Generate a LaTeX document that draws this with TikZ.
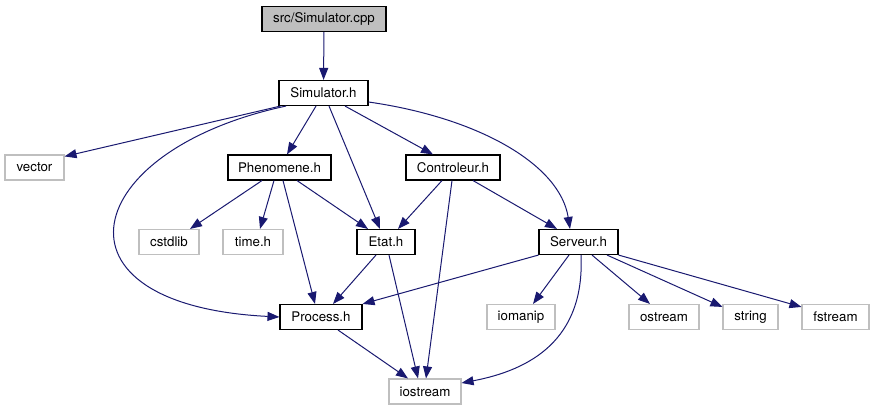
\documentclass[tikz,border=0pt]{standalone}
\usepackage{fontspec}
\setmainfont{TeX Gyre Heros}
\usetikzlibrary{arrows.meta,positioning}
\definecolor{cEdge}{HTML}{191970}
\definecolor{cFrame}{HTML}{BFBFBF}
\definecolor{cRoot}{HTML}{BFBFBF}
\tikzset{
  hbox/.style={draw=black,fill=white,line width=1.1pt,minimum height=25pt,inner sep=0pt,font=\fontsize{13.3}{15}\selectfont,text=black},
  sysbox/.style={hbox,draw=cFrame},
  rootbox/.style={hbox,fill=cRoot},
  arr/.style={-{Triangle[length=12pt,width=9pt]},line width=1pt,color=cEdge},
}

\begin{document}
\begin{tikzpicture}[x=1pt,y=-1pt]
  \useasboundingbox (0,0) rectangle (875,411);
  % top rows
  \node[rootbox,minimum width=124pt] (cpp)   at (324,19)    {src/Simulator.cpp};
  \node[hbox,minimum width=89pt]     (sim)   at (323.5,93)  {Simulator.h};
  \node[sysbox,minimum width=59pt]   (vec)   at (34.5,167.5){vector};
  \node[hbox,minimum width=103pt]    (phen)  at (279.5,167.5){Phenomene.h};
  \node[hbox,minimum width=94pt]     (ctrl)  at (453,167.5) {Controleur.h};
  % middle row
  \node[sysbox,minimum width=60pt]   (cstd)  at (169,242)   {cstdlib};
  \node[sysbox,minimum width=60pt]   (timeh) at (253,242)   {time.h};
  \node[hbox,minimum width=58pt]     (etat)  at (386,242)   {Etat.h};
  \node[hbox,minimum width=79pt]     (serv)  at (578.5,242) {Serveur.h};
  % bottom rows
  \node[hbox,minimum width=82pt]     (proc)  at (321,317)   {Process.h};
  \node[sysbox,minimum width=68pt]   (iomn)  at (521,317)   {iomanip};
  \node[sysbox,minimum width=70pt]   (ostr)  at (664,317)   {ostream};
  \node[sysbox,minimum width=55pt]   (strg)  at (750.5,317) {string};
  \node[sysbox,minimum width=67pt]   (fstr)  at (835.5,317) {fstream};
  \node[sysbox,minimum width=72pt]   (iostr) at (425,391.5) {iostream};

  \draw[arr] (cpp) -- (sim);
  % Simulator.h
  \draw[arr] ([xshift=-43pt]sim.south) -- ([yshift=-2pt]vec.north east);
  \draw[arr] ([xshift=-37.5pt]sim.south) .. controls (80,150) and (40,305) .. (proc.west);
  \draw[arr] ([xshift=-7.5pt]sim.south) -- ([xshift=7.5pt]phen.north);
  \draw[arr] ([xshift=5.5pt]sim.south) -- ([xshift=-6pt]etat.north);
  \draw[arr] ([xshift=21.5pt]sim.south) -- ([xshift=-20pt]ctrl.north);
  \draw[arr] ([yshift=-9pt]sim.east) .. controls (480,118) and (560,165) .. ([xshift=-8.5pt]serv.north);
  % Phenomene.h
  \draw[arr] ([xshift=-17.5pt]phen.south) -- ([xshift=21pt]cstd.north);
  \draw[arr] ([xshift=-5.5pt]phen.south) -- ([xshift=7pt]timeh.north);
  \draw[arr] ([xshift=3.5pt]phen.south) -- ([xshift=-6pt]proc.north);
  \draw[arr] ([xshift=17.5pt]phen.south) -- ([xshift=-18pt]etat.north);
  % Controleur.h
  \draw[arr] ([xshift=-11pt]ctrl.south) -- ([xshift=12pt]etat.north);
  \draw[arr] ([xshift=-1pt]ctrl.south) -- ([xshift=1pt]iostr.north);
  \draw[arr] ([xshift=20pt]ctrl.south) -- ([xshift=-21.5pt]serv.north);
  % Etat.h
  \draw[arr] ([xshift=-10pt]etat.south) -- ([xshift=12pt]proc.north);
  \draw[arr] ([xshift=3pt]etat.south) -- ([xshift=-7pt]iostr.north);
  % Serveur.h
  \draw[arr] (serv.south west) -- (proc.north east);
  \draw[arr] ([xshift=-9.5pt]serv.south) -- ([xshift=12pt]iomn.north);
  \draw[arr] ([xshift=2.5pt]serv.south) .. controls (585,340) and (530,370) .. ([yshift=8.5pt]iostr.east);
  \draw[arr] ([xshift=13.5pt]serv.south) -- ([xshift=-14pt]ostr.north);
  \draw[arr] ([xshift=28.5pt]serv.south) -- ([yshift=-3pt]strg.north west);
  \draw[arr] (serv.south east) -- ([yshift=-3pt]fstr.north west);
  % Process.h
  \draw[arr] ([xshift=17pt]proc.south) -- ([xshift=-17pt]iostr.north);
\end{tikzpicture}
\end{document}
